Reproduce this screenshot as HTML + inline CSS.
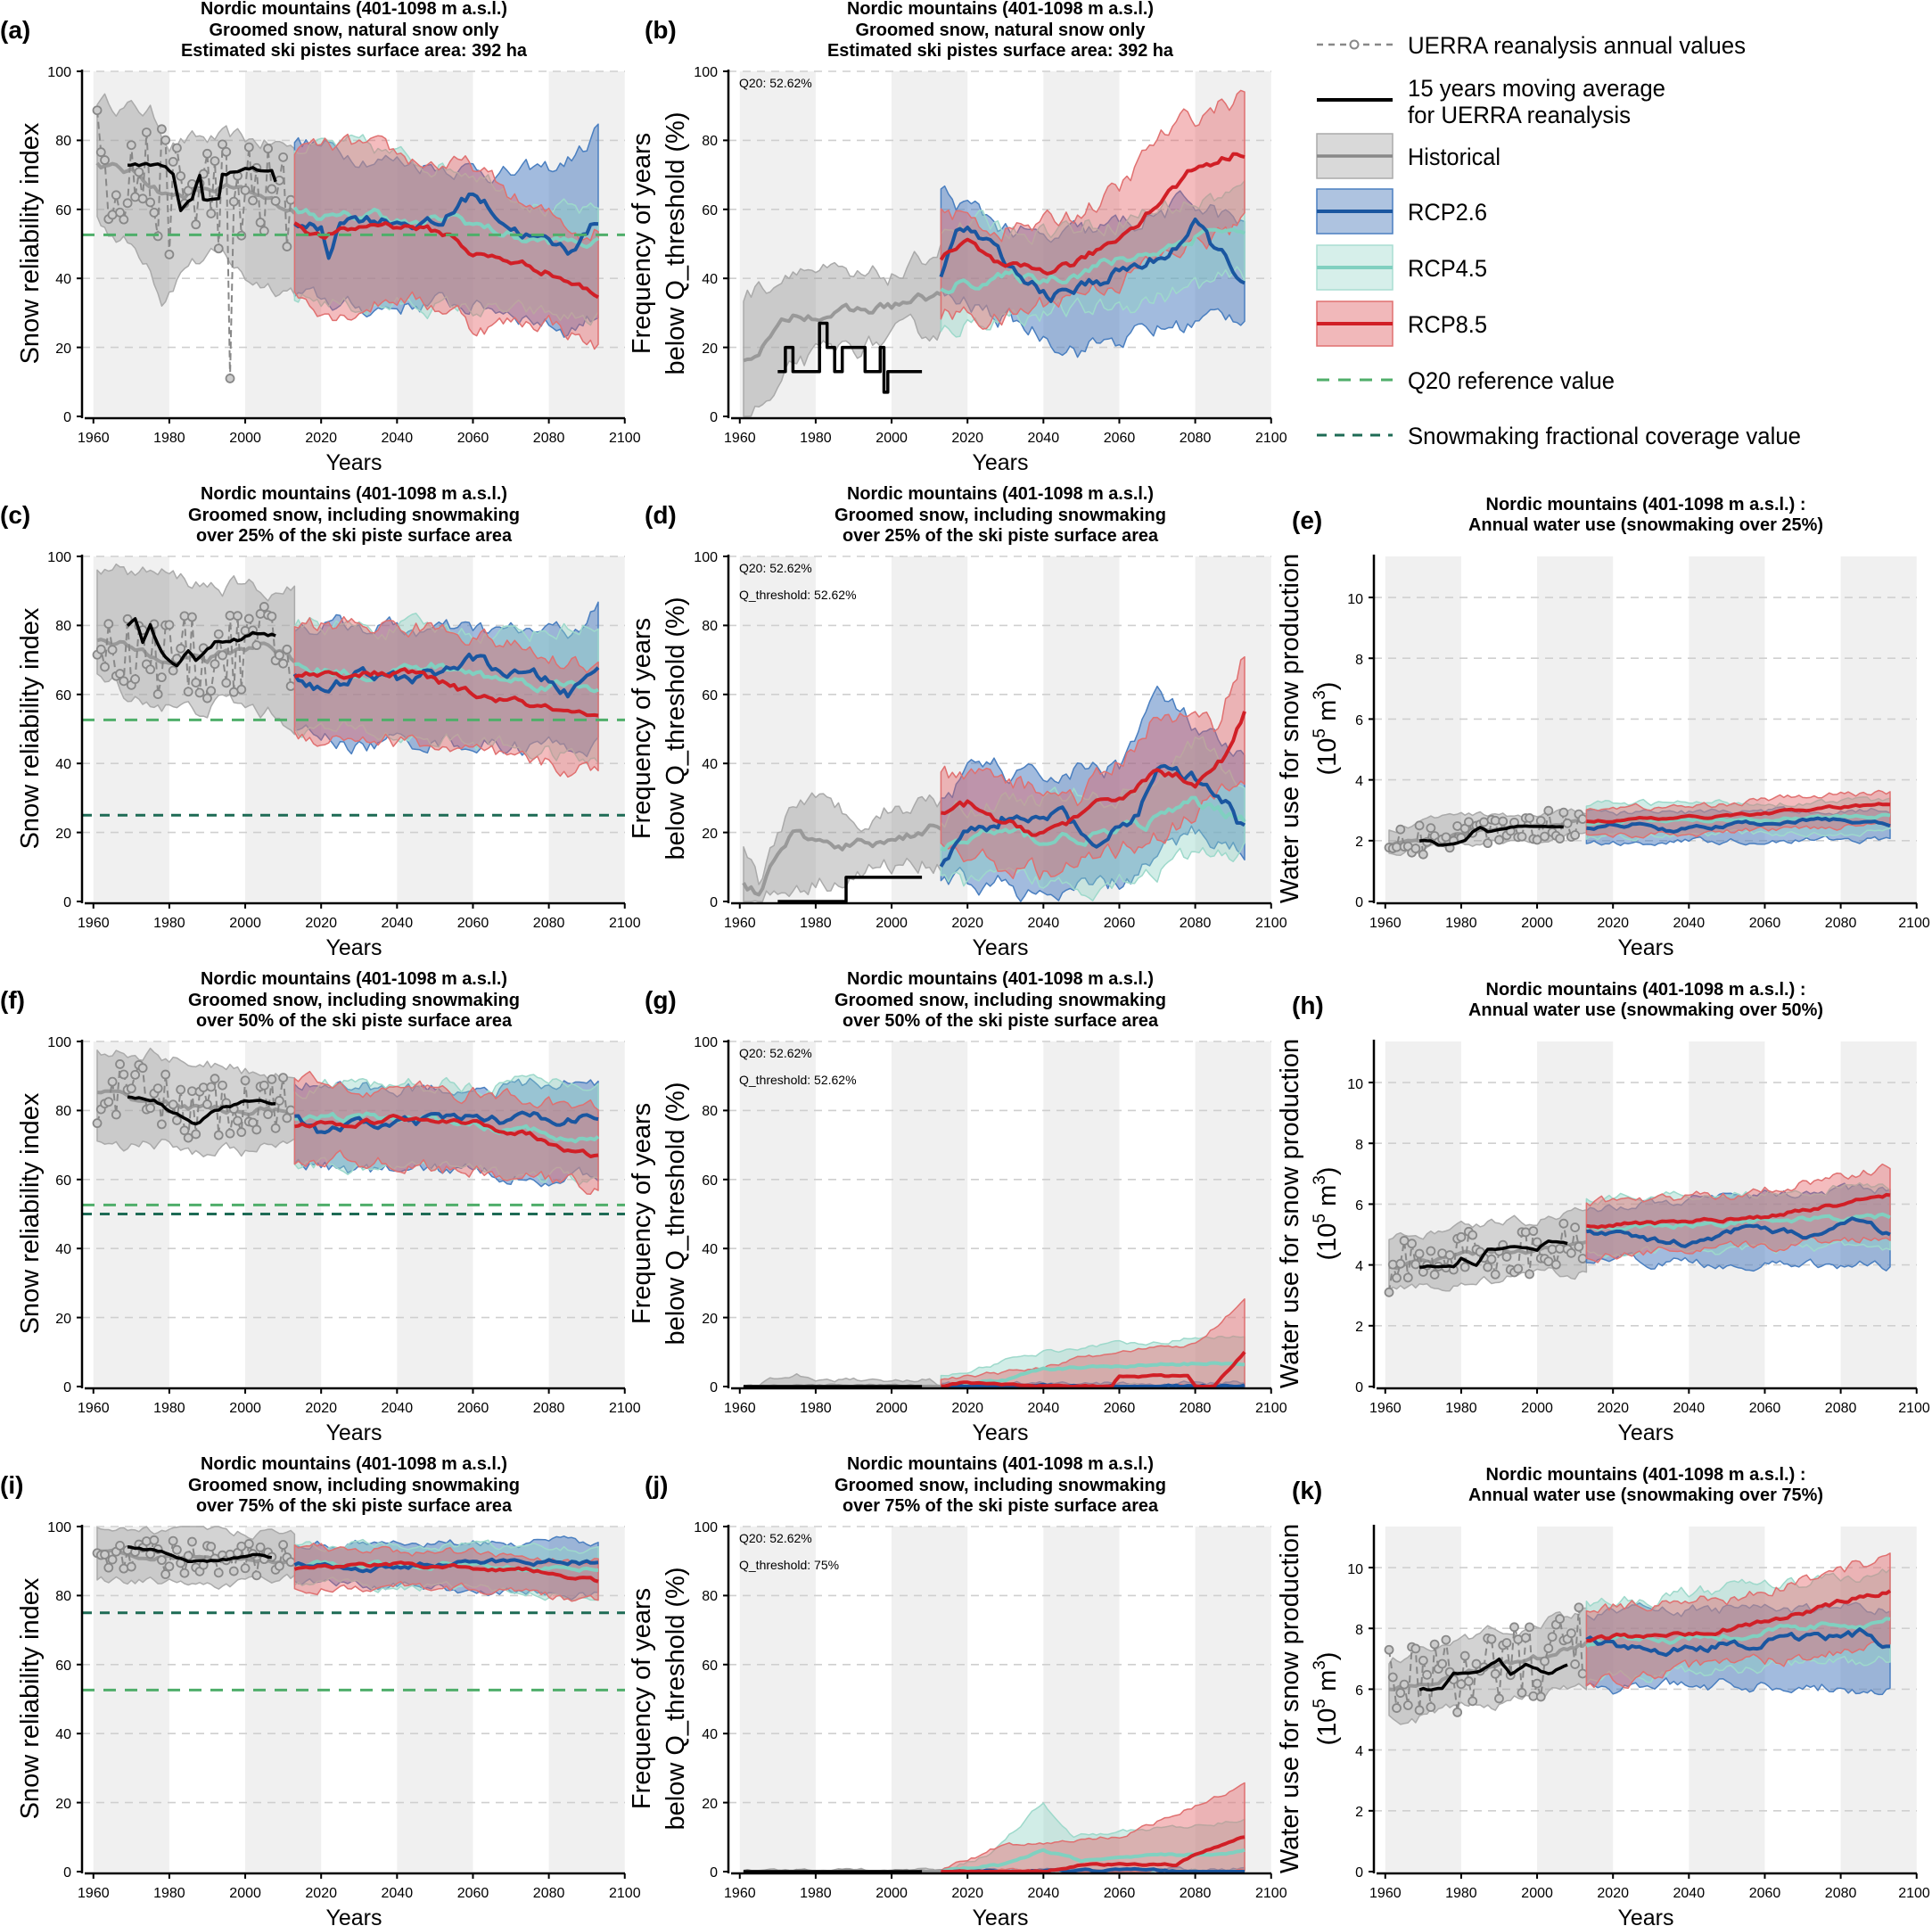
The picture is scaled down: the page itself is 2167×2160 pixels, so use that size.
<!DOCTYPE html>
<html><head><meta charset="utf-8">
<style>
html,body{margin:0;padding:0;background:#fff;}
svg{display:block;font-family:"Liberation Sans Narrow","Liberation Sans",sans-serif;}
.t{font-family:"Liberation Sans Narrow","Liberation Sans",sans-serif;font-weight:bold;font-size:20px;text-anchor:middle;}
.pl{font-family:"Liberation Sans",sans-serif;font-weight:bold;font-size:28px;}
.xt{font-size:16px;text-anchor:middle;}
.yt{font-size:16px;text-anchor:end;}
.xl{font-family:"Liberation Sans",sans-serif;font-size:25px;text-anchor:middle;}
.yl{font-family:"Liberation Sans",sans-serif;font-size:29px;text-anchor:middle;}
.lg{font-size:27px;}
.q{font-family:"Liberation Sans",sans-serif;font-size:14px;}
</style></head><body>
<svg id="s" width="2167" height="2160" viewBox="0 0 2167 2160" xmlns="http://www.w3.org/2000/svg">
<g id="plots"></g>

<!-- Legend -->
<g>
<line x1="1477" y1="50" x2="1562" y2="50" stroke="#888" stroke-width="2.5" stroke-dasharray="7,6"/>
<circle cx="1519" cy="50" r="4.5" fill="#fff" stroke="#888" stroke-width="2"/>
<text class="lg" x="1579" y="60" textLength="379" lengthAdjust="spacingAndGlyphs">UERRA reanalysis annual values</text>
<line x1="1477" y1="112" x2="1562" y2="112" stroke="#000" stroke-width="4"/>
<text class="lg" x="1579" y="108" textLength="289" lengthAdjust="spacingAndGlyphs">15 years moving average</text>
<text class="lg" x="1579" y="138" textLength="250" lengthAdjust="spacingAndGlyphs">for UERRA reanalysis</text>
<rect x="1477" y="150" width="85" height="50" fill="#d9d9d9" stroke="#aaa" stroke-width="1.5"/>
<line x1="1477" y1="175" x2="1562" y2="175" stroke="#888" stroke-width="3.5"/>
<text class="lg" x="1579" y="185" textLength="104" lengthAdjust="spacingAndGlyphs">Historical</text>
<rect x="1477" y="212" width="85" height="50" fill="#aec3e0" stroke="#4a7fc0" stroke-width="1.5"/>
<line x1="1477" y1="237" x2="1562" y2="237" stroke="#1a56a0" stroke-width="4"/>
<text class="lg" x="1579" y="247" textLength="89" lengthAdjust="spacingAndGlyphs">RCP2.6</text>
<rect x="1477" y="275" width="85" height="50" fill="#d6efea" stroke="#a9ddd2" stroke-width="1.5"/>
<line x1="1477" y1="300" x2="1562" y2="300" stroke="#80d0c0" stroke-width="4"/>
<text class="lg" x="1579" y="310" textLength="89" lengthAdjust="spacingAndGlyphs">RCP4.5</text>
<rect x="1477" y="338" width="85" height="50" fill="#f1b8ba" stroke="#e07070" stroke-width="1.5"/>
<line x1="1477" y1="363" x2="1562" y2="363" stroke="#d11f26" stroke-width="4"/>
<text class="lg" x="1579" y="373" textLength="89" lengthAdjust="spacingAndGlyphs">RCP8.5</text>
<line x1="1477" y1="426" x2="1562" y2="426" stroke="#4fae6a" stroke-width="3" stroke-dasharray="14,10"/>
<text class="lg" x="1579" y="436" textLength="232" lengthAdjust="spacingAndGlyphs">Q20 reference value</text>
<line x1="1477" y1="488" x2="1562" y2="488" stroke="#1e6b55" stroke-width="3" stroke-dasharray="11,9"/>
<text class="lg" x="1579" y="498" textLength="441" lengthAdjust="spacingAndGlyphs">Snowmaking fractional coverage value</text>
</g>

<!-- (a) -->
<g transform="translate(92,80)">
<text class="pl" x="-92" y="-37">(a)</text>
<text class="t" x="305" y="-64" textLength="344" lengthAdjust="spacingAndGlyphs">Nordic mountains (401-1098 m a.s.l.)</text>
<text class="t" x="305" y="-40" textLength="325" lengthAdjust="spacingAndGlyphs">Groomed snow, natural snow only</text>
<text class="t" x="305" y="-17" textLength="388" lengthAdjust="spacingAndGlyphs">Estimated ski pistes surface area: 392 ha</text>
<text class="yl" transform="translate(-49,193) rotate(-90)">Snow reliability index</text>
<text class="xl" x="305" y="447">Years</text>
<text class="yt" x="-12" y="6">100</text><text class="yt" x="-12" y="83">80</text><text class="yt" x="-12" y="161">60</text><text class="yt" x="-12" y="238">40</text><text class="yt" x="-12" y="316">20</text><text class="yt" x="-12" y="393">0</text>
<text class="xt" x="12.8" y="416">1960</text><text class="xt" x="97.9" y="416">1980</text><text class="xt" x="183.1" y="416">2000</text><text class="xt" x="268.2" y="416">2020</text><text class="xt" x="353.3" y="416">2040</text><text class="xt" x="438.5" y="416">2060</text><text class="xt" x="523.6" y="416">2080</text><text class="xt" x="608.8" y="416">2100</text>
</g>
<!-- (b) -->
<g transform="translate(817,80)">
<text class="pl" x="-94" y="-37">(b)</text>
<text class="t" x="305" y="-64" textLength="344" lengthAdjust="spacingAndGlyphs">Nordic mountains (401-1098 m a.s.l.)</text>
<text class="t" x="305" y="-40" textLength="325" lengthAdjust="spacingAndGlyphs">Groomed snow, natural snow only</text>
<text class="t" x="305" y="-17" textLength="388" lengthAdjust="spacingAndGlyphs">Estimated ski pistes surface area: 392 ha</text>
<text class="yl" transform="translate(-88,193) rotate(-90)">Frequency of years</text>
<text class="yl" transform="translate(-50,193) rotate(-90)">below Q_threshold (%)</text>
<text class="q" x="12" y="18">Q20: 52.62%</text>
<text class="xl" x="305" y="447">Years</text>
<text class="yt" x="-12" y="6">100</text><text class="yt" x="-12" y="83">80</text><text class="yt" x="-12" y="161">60</text><text class="yt" x="-12" y="238">40</text><text class="yt" x="-12" y="316">20</text><text class="yt" x="-12" y="393">0</text>
<text class="xt" x="12.8" y="416">1960</text><text class="xt" x="97.9" y="416">1980</text><text class="xt" x="183.1" y="416">2000</text><text class="xt" x="268.2" y="416">2020</text><text class="xt" x="353.3" y="416">2040</text><text class="xt" x="438.5" y="416">2060</text><text class="xt" x="523.6" y="416">2080</text><text class="xt" x="608.8" y="416">2100</text>
</g>
<!-- (c) -->
<g transform="translate(92,624)">
<text class="pl" x="-92" y="-37">(c)</text>
<text class="t" x="305" y="-64" textLength="344" lengthAdjust="spacingAndGlyphs">Nordic mountains (401-1098 m a.s.l.)</text>
<text class="t" x="305" y="-40" textLength="372" lengthAdjust="spacingAndGlyphs">Groomed snow, including snowmaking</text>
<text class="t" x="305" y="-17" textLength="354" lengthAdjust="spacingAndGlyphs">over 25% of the ski piste surface area</text>
<text class="yl" transform="translate(-49,193) rotate(-90)">Snow reliability index</text>
<text class="xl" x="305" y="447">Years</text>
<text class="yt" x="-12" y="6">100</text><text class="yt" x="-12" y="83">80</text><text class="yt" x="-12" y="161">60</text><text class="yt" x="-12" y="238">40</text><text class="yt" x="-12" y="316">20</text><text class="yt" x="-12" y="393">0</text>
<text class="xt" x="12.8" y="416">1960</text><text class="xt" x="97.9" y="416">1980</text><text class="xt" x="183.1" y="416">2000</text><text class="xt" x="268.2" y="416">2020</text><text class="xt" x="353.3" y="416">2040</text><text class="xt" x="438.5" y="416">2060</text><text class="xt" x="523.6" y="416">2080</text><text class="xt" x="608.8" y="416">2100</text>
</g>
<!-- (d) -->
<g transform="translate(817,624)">
<text class="pl" x="-94" y="-37">(d)</text>
<text class="t" x="305" y="-64" textLength="344" lengthAdjust="spacingAndGlyphs">Nordic mountains (401-1098 m a.s.l.)</text>
<text class="t" x="305" y="-40" textLength="372" lengthAdjust="spacingAndGlyphs">Groomed snow, including snowmaking</text>
<text class="t" x="305" y="-17" textLength="354" lengthAdjust="spacingAndGlyphs">over 25% of the ski piste surface area</text>
<text class="yl" transform="translate(-88,193) rotate(-90)">Frequency of years</text>
<text class="yl" transform="translate(-50,193) rotate(-90)">below Q_threshold (%)</text>
<text class="q" x="12" y="18">Q20: 52.62%</text>
<text class="q" x="12" y="48">Q_threshold: 52.62%</text>
<text class="xl" x="305" y="447">Years</text>
<text class="yt" x="-12" y="6">100</text><text class="yt" x="-12" y="83">80</text><text class="yt" x="-12" y="161">60</text><text class="yt" x="-12" y="238">40</text><text class="yt" x="-12" y="316">20</text><text class="yt" x="-12" y="393">0</text>
<text class="xt" x="12.8" y="416">1960</text><text class="xt" x="97.9" y="416">1980</text><text class="xt" x="183.1" y="416">2000</text><text class="xt" x="268.2" y="416">2020</text><text class="xt" x="353.3" y="416">2040</text><text class="xt" x="438.5" y="416">2060</text><text class="xt" x="523.6" y="416">2080</text><text class="xt" x="608.8" y="416">2100</text>
</g>
<!-- (e) -->
<g transform="translate(1541,624)">
<text class="pl" x="-92" y="-31">(e)</text>
<text class="t" x="305" y="-52" textLength="359" lengthAdjust="spacingAndGlyphs">Nordic mountains (401-1098 m a.s.l.) :</text>
<text class="t" x="305" y="-29" textLength="398" lengthAdjust="spacingAndGlyphs">Annual water use (snowmaking over 25%)</text>
<text class="yl" transform="translate(-85,193) rotate(-90)">Water use for snow production</text>
<text class="yl" transform="translate(-43,193) rotate(-90)">(10<tspan dy="-12" font-size="19">5</tspan><tspan dy="12"> m</tspan><tspan dy="-12" font-size="19">3</tspan><tspan dy="12">)</tspan></text>
<text class="xl" x="305" y="447">Years</text>
<text class="yt" x="-12" y="393">0</text><text class="yt" x="-12" y="325">2</text><text class="yt" x="-12" y="257">4</text><text class="yt" x="-12" y="189">6</text><text class="yt" x="-12" y="121">8</text><text class="yt" x="-12" y="53">10</text>
<text class="xt" x="12.8" y="416">1960</text><text class="xt" x="97.9" y="416">1980</text><text class="xt" x="183.1" y="416">2000</text><text class="xt" x="268.2" y="416">2020</text><text class="xt" x="353.3" y="416">2040</text><text class="xt" x="438.5" y="416">2060</text><text class="xt" x="523.6" y="416">2080</text><text class="xt" x="606" y="416">2100</text>
</g>
<!-- (f) -->
<g transform="translate(92,1168)">
<text class="pl" x="-92" y="-37">(f)</text>
<text class="t" x="305" y="-64" textLength="344" lengthAdjust="spacingAndGlyphs">Nordic mountains (401-1098 m a.s.l.)</text>
<text class="t" x="305" y="-40" textLength="372" lengthAdjust="spacingAndGlyphs">Groomed snow, including snowmaking</text>
<text class="t" x="305" y="-17" textLength="354" lengthAdjust="spacingAndGlyphs">over 50% of the ski piste surface area</text>
<text class="yl" transform="translate(-49,193) rotate(-90)">Snow reliability index</text>
<text class="xl" x="305" y="447">Years</text>
<text class="yt" x="-12" y="6">100</text><text class="yt" x="-12" y="83">80</text><text class="yt" x="-12" y="161">60</text><text class="yt" x="-12" y="238">40</text><text class="yt" x="-12" y="316">20</text><text class="yt" x="-12" y="393">0</text>
<text class="xt" x="12.8" y="416">1960</text><text class="xt" x="97.9" y="416">1980</text><text class="xt" x="183.1" y="416">2000</text><text class="xt" x="268.2" y="416">2020</text><text class="xt" x="353.3" y="416">2040</text><text class="xt" x="438.5" y="416">2060</text><text class="xt" x="523.6" y="416">2080</text><text class="xt" x="608.8" y="416">2100</text>
</g>
<!-- (g) -->
<g transform="translate(817,1168)">
<text class="pl" x="-94" y="-37">(g)</text>
<text class="t" x="305" y="-64" textLength="344" lengthAdjust="spacingAndGlyphs">Nordic mountains (401-1098 m a.s.l.)</text>
<text class="t" x="305" y="-40" textLength="372" lengthAdjust="spacingAndGlyphs">Groomed snow, including snowmaking</text>
<text class="t" x="305" y="-17" textLength="354" lengthAdjust="spacingAndGlyphs">over 50% of the ski piste surface area</text>
<text class="yl" transform="translate(-88,193) rotate(-90)">Frequency of years</text>
<text class="yl" transform="translate(-50,193) rotate(-90)">below Q_threshold (%)</text>
<text class="q" x="12" y="18">Q20: 52.62%</text>
<text class="q" x="12" y="48">Q_threshold: 52.62%</text>
<text class="xl" x="305" y="447">Years</text>
<text class="yt" x="-12" y="6">100</text><text class="yt" x="-12" y="83">80</text><text class="yt" x="-12" y="161">60</text><text class="yt" x="-12" y="238">40</text><text class="yt" x="-12" y="316">20</text><text class="yt" x="-12" y="393">0</text>
<text class="xt" x="12.8" y="416">1960</text><text class="xt" x="97.9" y="416">1980</text><text class="xt" x="183.1" y="416">2000</text><text class="xt" x="268.2" y="416">2020</text><text class="xt" x="353.3" y="416">2040</text><text class="xt" x="438.5" y="416">2060</text><text class="xt" x="523.6" y="416">2080</text><text class="xt" x="608.8" y="416">2100</text>
</g>
<!-- (h) -->
<g transform="translate(1541,1168)">
<text class="pl" x="-92" y="-31">(h)</text>
<text class="t" x="305" y="-52" textLength="359" lengthAdjust="spacingAndGlyphs">Nordic mountains (401-1098 m a.s.l.) :</text>
<text class="t" x="305" y="-29" textLength="398" lengthAdjust="spacingAndGlyphs">Annual water use (snowmaking over 50%)</text>
<text class="yl" transform="translate(-85,193) rotate(-90)">Water use for snow production</text>
<text class="yl" transform="translate(-43,193) rotate(-90)">(10<tspan dy="-12" font-size="19">5</tspan><tspan dy="12"> m</tspan><tspan dy="-12" font-size="19">3</tspan><tspan dy="12">)</tspan></text>
<text class="xl" x="305" y="447">Years</text>
<text class="yt" x="-12" y="393">0</text><text class="yt" x="-12" y="325">2</text><text class="yt" x="-12" y="257">4</text><text class="yt" x="-12" y="189">6</text><text class="yt" x="-12" y="121">8</text><text class="yt" x="-12" y="53">10</text>
<text class="xt" x="12.8" y="416">1960</text><text class="xt" x="97.9" y="416">1980</text><text class="xt" x="183.1" y="416">2000</text><text class="xt" x="268.2" y="416">2020</text><text class="xt" x="353.3" y="416">2040</text><text class="xt" x="438.5" y="416">2060</text><text class="xt" x="523.6" y="416">2080</text><text class="xt" x="606" y="416">2100</text>
</g>
<!-- (i) -->
<g transform="translate(92,1712)">
<text class="pl" x="-92" y="-37">(i)</text>
<text class="t" x="305" y="-64" textLength="344" lengthAdjust="spacingAndGlyphs">Nordic mountains (401-1098 m a.s.l.)</text>
<text class="t" x="305" y="-40" textLength="372" lengthAdjust="spacingAndGlyphs">Groomed snow, including snowmaking</text>
<text class="t" x="305" y="-17" textLength="354" lengthAdjust="spacingAndGlyphs">over 75% of the ski piste surface area</text>
<text class="yl" transform="translate(-49,193) rotate(-90)">Snow reliability index</text>
<text class="xl" x="305" y="447">Years</text>
<text class="yt" x="-12" y="6">100</text><text class="yt" x="-12" y="83">80</text><text class="yt" x="-12" y="161">60</text><text class="yt" x="-12" y="238">40</text><text class="yt" x="-12" y="316">20</text><text class="yt" x="-12" y="393">0</text>
<text class="xt" x="12.8" y="416">1960</text><text class="xt" x="97.9" y="416">1980</text><text class="xt" x="183.1" y="416">2000</text><text class="xt" x="268.2" y="416">2020</text><text class="xt" x="353.3" y="416">2040</text><text class="xt" x="438.5" y="416">2060</text><text class="xt" x="523.6" y="416">2080</text><text class="xt" x="608.8" y="416">2100</text>
</g>
<!-- (j) -->
<g transform="translate(817,1712)">
<text class="pl" x="-94" y="-37">(j)</text>
<text class="t" x="305" y="-64" textLength="344" lengthAdjust="spacingAndGlyphs">Nordic mountains (401-1098 m a.s.l.)</text>
<text class="t" x="305" y="-40" textLength="372" lengthAdjust="spacingAndGlyphs">Groomed snow, including snowmaking</text>
<text class="t" x="305" y="-17" textLength="354" lengthAdjust="spacingAndGlyphs">over 75% of the ski piste surface area</text>
<text class="yl" transform="translate(-88,193) rotate(-90)">Frequency of years</text>
<text class="yl" transform="translate(-50,193) rotate(-90)">below Q_threshold (%)</text>
<text class="q" x="12" y="18">Q20: 52.62%</text>
<text class="q" x="12" y="48">Q_threshold: 75%</text>
<text class="xl" x="305" y="447">Years</text>
<text class="yt" x="-12" y="6">100</text><text class="yt" x="-12" y="83">80</text><text class="yt" x="-12" y="161">60</text><text class="yt" x="-12" y="238">40</text><text class="yt" x="-12" y="316">20</text><text class="yt" x="-12" y="393">0</text>
<text class="xt" x="12.8" y="416">1960</text><text class="xt" x="97.9" y="416">1980</text><text class="xt" x="183.1" y="416">2000</text><text class="xt" x="268.2" y="416">2020</text><text class="xt" x="353.3" y="416">2040</text><text class="xt" x="438.5" y="416">2060</text><text class="xt" x="523.6" y="416">2080</text><text class="xt" x="608.8" y="416">2100</text>
</g>
<!-- (k) -->
<g transform="translate(1541,1712)">
<text class="pl" x="-92" y="-31">(k)</text>
<text class="t" x="305" y="-52" textLength="359" lengthAdjust="spacingAndGlyphs">Nordic mountains (401-1098 m a.s.l.) :</text>
<text class="t" x="305" y="-29" textLength="398" lengthAdjust="spacingAndGlyphs">Annual water use (snowmaking over 75%)</text>
<text class="yl" transform="translate(-85,193) rotate(-90)">Water use for snow production</text>
<text class="yl" transform="translate(-43,193) rotate(-90)">(10<tspan dy="-12" font-size="19">5</tspan><tspan dy="12"> m</tspan><tspan dy="-12" font-size="19">3</tspan><tspan dy="12">)</tspan></text>
<text class="xl" x="305" y="447">Years</text>
<text class="yt" x="-12" y="393">0</text><text class="yt" x="-12" y="325">2</text><text class="yt" x="-12" y="257">4</text><text class="yt" x="-12" y="189">6</text><text class="yt" x="-12" y="121">8</text><text class="yt" x="-12" y="53">10</text>
<text class="xt" x="12.8" y="416">1960</text><text class="xt" x="97.9" y="416">1980</text><text class="xt" x="183.1" y="416">2000</text><text class="xt" x="268.2" y="416">2020</text><text class="xt" x="353.3" y="416">2040</text><text class="xt" x="438.5" y="416">2060</text><text class="xt" x="523.6" y="416">2080</text><text class="xt" x="606" y="416">2100</text>
</g>
</svg>
<script>
(function(){
var NS="http://www.w3.org/2000/svg",root=document.getElementById("plots");
var G="#4fae6a",DG="#1e6b55";
function el(n,a,p){var e=document.createElementNS(NS,n);for(var k in a)e.setAttribute(k,a[k]);(p||root).appendChild(e);return e;}
var seed=12345;function rnd(){seed=(seed*16807)%2147483647;return seed/2147483647;}
function ip(a,x){if(x<=a[0][0])return a[0][1];for(var i=0;i<a.length-1;i++){if(x<=a[i+1][0]){var t=(x-a[i][0])/((a[i+1][0]-a[i][0])||1);return a[i][1]+t*(a[i+1][1]-a[i][1]);}}return a[a.length-1][1];}
function gen(a,x0,x1,amp,ym){var n=0,o=[];for(var x=x0;x<=x1;x++){n=0.7*n+amp*(rnd()-0.5)*1.4;var v=ip(a,x)+n;v=Math.max(0,Math.min(ym,v));o.push([x,v]);}return o;}
var P=[
{o:[92,80],ym:100,na:2.5,u:18,
 h:{m:[[1961,73],[1972,70],[1980,64],[1995,66],[2013,60]],lo:[[1961,57],[1968,51],[1975,45],[1978,35],[1980,38],[1985,45],[1995,46],[2000,40],[2013,37]],hi:[[1961,92],[1968,90],[1975,88],[1980,80],[2000,80],[2013,78]]},
 ma:[[1969,73],[1978,73],[1981,70],[1983,60],[1986,63],[1988,70],[1989,63],[1993,63],[1994,70],[2001,72],[2007,71],[2008,68]],
 b:{m:[[2013,57],[2020,54],[2022,46],[2025,58],[2040,57],[2052,55],[2053,58],[2060,65],[2070,55],[2080,50],[2085,48],[2093,57]],lo:[[2013,35],[2030,31],[2050,33],[2070,31],[2085,25],[2093,30]],hi:[[2013,80],[2020,78],[2040,74],[2060,72],[2070,70],[2082,72],[2090,78],[2093,84]]},
 t:{m:[[2013,60],[2025,57],[2035,59],[2045,55],[2055,58],[2065,54],[2075,51],[2093,50]],lo:[[2013,35],[2030,32],[2050,32],[2070,30],[2093,28]],hi:[[2013,78],[2030,78],[2045,74],[2060,72],[2080,60],[2093,58]]},
 r:{m:[[2013,56],[2020,52],[2028,54],[2035,56],[2045,55],[2055,52],[2060,47],[2070,45],[2080,42],[2093,35]],lo:[[2013,35],[2025,30],[2040,35],[2057,30],[2060,26],[2080,28],[2093,20]],hi:[[2013,78],[2030,78],[2045,74],[2060,72],[2075,60],[2090,53],[2093,55]]},
 hl:[[52.62,G]]},
{o:[817,80],ym:100,na:3,u:0,
 h:{m:[[1961,16],[1965,20],[1975,30],[1990,30],[2013,35]],lo:[[1961,0],[1970,5],[1975,15],[1990,20],[2013,25]],hi:[[1961,35],[1970,40],[1975,45],[1990,38],[2005,42],[2013,50]]},
 st:1,ma:[[1970,13],[1972,20],[1974,13],[1976,13],[1978,13],[1981,27],[1983,20],[1985,13],[1987,20],[1993,13],[1997,20],[1998,7],[1999,13],[2008,13]],
 r:{m:[[2013,45],[2020,50],[2030,42],[2040,42],[2050,45],[2060,52],[2070,62],[2080,72],[2093,77]],lo:[[2013,30],[2030,28],[2045,35],[2060,40],[2080,50],[2093,55]],hi:[[2013,60],[2025,55],[2040,55],[2060,65],[2070,80],[2085,90],[2093,93]]},
 b:{m:[[2013,42],[2018,55],[2025,50],[2035,38],[2045,35],[2060,42],[2070,45],[2080,55],[2088,45],[2093,40]],lo:[[2013,35],[2030,28],[2050,20],[2070,25],[2093,30]],hi:[[2013,65],[2020,60],[2040,50],[2060,55],[2080,62],[2093,55]]},
 t:{m:[[2013,38],[2025,40],[2040,40],[2060,45],[2075,50],[2085,55],[2093,52]],lo:[[2013,25],[2030,30],[2050,30],[2070,35],[2093,40]],hi:[[2013,55],[2030,55],[2050,55],[2070,60],[2093,65]]},hl:[]},
{o:[92,624],ym:100,na:2.5,u:12,
 h:{m:[[1961,75],[1975,72],[1990,70],[2005,75],[2013,70]],lo:[[1961,65],[1970,60],[1985,55],[1995,58],[2013,52]],hi:[[1961,96],[1975,95],[1990,92],[2005,90],[2013,90]]},
 ma:[[1969,80],[1971,82],[1973,75],[1975,80],[1978,72],[1982,68],[1985,73],[1987,70],[1992,75],[1999,76],[2002,78],[2008,77]],
 b:{m:[[2013,66],[2022,60],[2030,66],[2040,64],[2050,66],[2060,70],[2070,66],[2080,64],[2085,60],[2093,67]],lo:[[2013,50],[2030,45],[2050,47],[2070,45],[2093,45]],hi:[[2013,80],[2030,80],[2050,78],[2070,78],[2085,78],[2093,85]]},
 t:{m:[[2013,68],[2030,66],[2050,68],[2070,64],[2093,62]],lo:[[2013,50],[2040,48],[2070,45],[2093,40]],hi:[[2013,80],[2040,79],[2070,78],[2093,80]]},
 r:{m:[[2013,66],[2030,66],[2045,66],[2060,60],[2075,57],[2093,52]],lo:[[2013,48],[2030,48],[2050,45],[2070,40],[2093,38]],hi:[[2013,80],[2040,80],[2060,78],[2080,70],[2093,68]]},
 hl:[[52.62,G],[25,DG]]},
{o:[817,624],ym:100,na:3,u:0,
 h:{m:[[1961,5],[1965,2],[1970,15],[1975,20],[1985,15],[2000,18],[2013,22]],lo:[[1961,0],[1975,5],[2000,10],[2013,12]],hi:[[1961,15],[1965,5],[1970,20],[1975,30],[1990,25],[2013,30]]},
 st:1,ma:[[1970,0],[1988,7],[2008,7]],
 r:{m:[[2013,25],[2020,28],[2030,22],[2040,20],[2050,25],[2060,30],[2070,38],[2080,35],[2088,42],[2093,54]],lo:[[2013,15],[2030,10],[2045,8],[2060,15],[2080,25],[2093,35]],hi:[[2013,35],[2030,35],[2050,30],[2060,40],[2070,55],[2085,50],[2093,74]]},
 b:{m:[[2013,10],[2020,20],[2030,25],[2035,22],[2045,25],[2055,15],[2065,25],[2070,40],[2080,35],[2088,28],[2093,20]],lo:[[2013,5],[2030,5],[2040,0],[2060,5],[2080,20],[2093,15]],hi:[[2013,30],[2025,40],[2035,35],[2060,40],[2070,60],[2085,45],[2093,40]]},
 t:{m:[[2013,15],[2025,20],[2040,18],[2060,20],[2080,28],[2093,25]],lo:[[2013,5],[2030,5],[2050,5],[2070,10],[2093,15]],hi:[[2013,25],[2030,30],[2060,30],[2080,45],[2093,35]]},hl:[]},
{o:[1541,624],ym:11.35,na:0.1,u:0.5,
 h:{m:[[1961,1.9],[1975,2.1],[1985,2.35],[2000,2.5],[2013,2.6]],lo:[[1961,1.6],[1980,1.9],[2000,2.1],[2013,2.2]],hi:[[1961,2.3],[1975,2.8],[2000,2.8],[2013,3.0]]},
 ma:[[1969,2.0],[1972,2.0],[1974,1.85],[1978,1.9],[1981,2.0],[1983,2.3],[1985,2.45],[1987,2.3],[1995,2.48],[2007,2.45]],
 r:{m:[[2013,2.65],[2040,2.75],[2060,2.9],[2080,3.1],[2093,3.2]],lo:[[2013,2.2],[2040,2.2],[2093,2.6]],hi:[[2013,3.1],[2040,3.1],[2060,3.35],[2093,3.6]]},
 b:{m:[[2013,2.45],[2025,2.55],[2035,2.35],[2060,2.6],[2080,2.7],[2093,2.5]],lo:[[2013,1.9],[2040,2.0],[2060,2.0],[2093,2.05]],hi:[[2013,2.9],[2093,3.0]]},
 t:{m:[[2013,2.6],[2050,2.7],[2093,2.8]],lo:[[2013,2.1],[2093,2.3]],hi:[[2013,3.2],[2093,3.3]]},hl:[],wat:1},
{o:[92,1168],ym:100,na:2,u:10,
 h:{m:[[1961,85],[1980,82],[1995,80],[2013,80]],lo:[[1961,72],[1975,70],[1995,68],[2013,70]],hi:[[1961,98],[1975,97],[1995,92],[2013,90]]},
 ma:[[1969,84],[1976,83],[1980,80],[1985,77],[1987,76],[1992,80],[1998,82],[2002,83],[2008,82]],
 b:{m:[[2013,78],[2020,73],[2030,76],[2045,76],[2060,78],[2070,77],[2080,78],[2093,78]],lo:[[2013,66],[2030,62],[2050,63],[2093,60]],hi:[[2013,88],[2040,86],[2070,87],[2093,88]]},
 t:{m:[[2013,78],[2040,78],[2060,76],[2080,73],[2093,73]],lo:[[2013,65],[2093,60]],hi:[[2013,87],[2093,88]]},
 r:{m:[[2013,76],[2030,76],[2040,78],[2060,76],[2075,73],[2093,66]],lo:[[2013,66],[2040,65],[2060,62],[2093,58]],hi:[[2013,88],[2040,86],[2060,85],[2093,80]]},
 hl:[[52.62,G],[50,DG]]},
{o:[817,1168],ym:100,na:0.6,u:0,
 h:{m:[[1961,0],[2013,0]],lo:[[1961,0],[2013,0]],hi:[[1961,0],[1968,2],[1975,4],[1980,2],[2010,2],[2013,0]]},
 st:1,ma:[[1961,0],[2008,0]],
 b:{m:[[2013,0],[2093,0]],lo:[[2013,0],[2093,0]],hi:[[2013,1],[2093,1]]},
 t:{m:[[2013,0],[2030,2],[2040,5],[2060,6],[2093,7]],lo:[[2013,0],[2093,0]],hi:[[2013,3],[2040,10],[2055,12],[2093,15]]},
 r:{m:[[2013,0],[2018,1],[2025,1],[2045,0],[2058,0],[2060,3],[2078,3],[2080,0],[2085,0],[2093,10]],lo:[[2013,0],[2093,0]],hi:[[2013,2],[2030,4],[2060,10],[2080,12],[2093,25]]},hl:[]},
{o:[1541,1168],ym:11.35,na:0.15,u:0.9,
 h:{m:[[1961,3.9],[1980,4.3],[2000,4.5],[2013,4.8]],lo:[[1961,3.2],[1980,3.4],[2013,3.8]],hi:[[1961,4.8],[1980,5.3],[2000,5.5],[2013,5.9]]},
 ma:[[1969,3.95],[1978,3.95],[1980,4.2],[1984,4.0],[1987,4.5],[1994,4.6],[2000,4.5],[2003,4.8],[2008,4.7]],
 r:{m:[[2013,5.3],[2040,5.4],[2060,5.6],[2080,6.0],[2093,6.3]],lo:[[2013,4.3],[2050,4.5],[2093,5.0]],hi:[[2013,6.0],[2050,6.3],[2093,7.2]]},
 b:{m:[[2013,5.1],[2030,4.8],[2040,4.7],[2055,5.2],[2070,5.0],[2085,5.5],[2093,5.0]],lo:[[2013,4.2],[2060,4.0],[2093,4.0]],hi:[[2013,5.9],[2093,6.5]]},
 t:{m:[[2013,5.2],[2050,5.4],[2093,5.6]],lo:[[2013,4.4],[2093,4.6]],hi:[[2013,6.2],[2093,6.6]]},hl:[],wat:1},
{o:[92,1712],ym:100,na:1.2,u:5,
 h:{m:[[1961,93],[1980,91],[2000,90],[2013,90]],lo:[[1961,85],[1990,83],[2013,85]],hi:[[1961,99],[2013,98]]},
 ma:[[1969,94],[1977,93],[1985,90],[1992,90],[1998,91],[2003,92],[2007,91]],
 b:{m:[[2013,89],[2030,88],[2050,89],[2070,90],[2093,90]],lo:[[2013,84],[2093,80]],hi:[[2013,95],[2093,95]]},
 t:{m:[[2013,89],[2050,89],[2093,88]],lo:[[2013,84],[2093,80]],hi:[[2013,95],[2093,94]]},
 r:{m:[[2013,88],[2040,89],[2060,88],[2080,87],[2093,84]],lo:[[2013,83],[2060,82],[2093,78]],hi:[[2013,94],[2060,92],[2093,90]]},
 hl:[[52.62,G],[75,DG]]},
{o:[817,1712],ym:100,na:0.6,u:0,
 h:{m:[[1961,0],[2013,0]],lo:[[1961,0],[2013,0]],hi:[[1961,0],[2013,0]]},
 st:1,ma:[[1961,0],[2008,0]],
 b:{m:[[2013,0],[2093,0]],lo:[[2013,0],[2093,0]],hi:[[2013,0],[2093,1]]},
 t:{m:[[2013,0],[2030,2],[2040,6],[2050,3],[2093,6]],lo:[[2013,0],[2093,0]],hi:[[2013,0],[2025,5],[2040,20],[2048,10],[2093,15]]},
 r:{m:[[2013,0],[2040,0],[2050,2],[2075,2],[2080,5],[2093,10]],lo:[[2013,0],[2093,0]],hi:[[2013,0],[2030,8],[2040,8],[2060,10],[2093,25]]},hl:[]},
{o:[1541,1712],ym:11.35,na:0.2,u:1.3,
 h:{m:[[1961,6],[1980,6.5],[2000,7],[2013,7.5]],lo:[[1961,5],[1980,5.3],[2013,6.2]],hi:[[1961,7],[1980,7.6],[2000,8.2],[2013,8.6]]},
 ma:[[1969,6.0],[1975,6.0],[1978,6.5],[1985,6.6],[1990,7.0],[1993,6.5],[1997,6.8],[2003,6.5],[2008,6.8]],
 r:{m:[[2013,7.6],[2030,7.8],[2050,8.0],[2070,8.5],[2093,9.3]],lo:[[2013,6.2],[2050,6.8],[2093,7.5]],hi:[[2013,8.6],[2050,9.0],[2093,10.3]]},
 b:{m:[[2013,7.6],[2030,7.2],[2050,7.5],[2070,7.6],[2085,7.8],[2093,7.3]],lo:[[2013,6.0],[2060,6.2],[2093,6.0]],hi:[[2013,8.6],[2060,8.6],[2093,8.8]]},
 t:{m:[[2013,7.5],[2050,7.8],[2093,8.3]],lo:[[2013,6.3],[2093,7.0]],hi:[[2013,8.8],[2093,9.8]]},hl:[],wat:1}
];
var HT=387;
P.forEach(function(p){
 var g=el("g",{transform:"translate("+p.o[0]+","+p.o[1]+")"});
 var X=function(y){return (y-1957)*4.257;},Y=function(v){return HT*(1-v/p.ym);};
 [1960,2000,2040,2080].forEach(function(s){el("rect",{x:X(s),y:0,width:X(s+20)-X(s),height:HT,fill:"#f0f0f0"},g);});
 var ticks=p.wat?[2,4,6,8,10]:[20,40,60,80,100];
 ticks.forEach(function(t){el("line",{x1:0,x2:609,y1:Y(t),y2:Y(t),stroke:"#cfcfcf","stroke-width":1.6,"stroke-dasharray":"9,7"},g);});
 function pts(a){return a.map(function(q){return X(q[0]).toFixed(1)+","+Y(q[1]).toFixed(1);}).join(" ");}
 function band(b,x0,x1,fill,stroke,amp){var hi=gen(b.hi,x0,x1,amp,p.ym),lo=gen(b.lo,x0,x1,amp,p.ym);
  for(var i=0;i<hi.length;i++){if(lo[i][1]>hi[i][1]){var t=lo[i][1];lo[i][1]=hi[i][1];hi[i][1]=t;}}
  el("polygon",{points:pts(hi)+" "+pts(lo.reverse()),fill:fill,stroke:stroke,"stroke-width":1.5,"stroke-linejoin":"round"},g);}
 function line(a,x0,x1,col,w,amp){el("polyline",{points:pts(gen(a,x0,x1,amp,p.ym)),fill:"none",stroke:col,"stroke-width":w,"stroke-linejoin":"round"},g);}
 band(p.h,1961,2013,"rgba(150,150,150,0.42)","#aaa",p.na*1.2);
 line(p.h.m,1961,2013,"#999",4,p.na*0.6);
 if(p.u){var u=[];for(var y=1961;y<=2012;y++){var v=ip(p.h.m,y)+(rnd()-0.5)*2*p.u;v=Math.max(0,Math.min(p.ym,v));u.push([y,v]);}
  if(p.o[0]==92&&p.o[1]==80){u[35][1]=11;}
  el("polyline",{points:pts(u),fill:"none",stroke:"#888","stroke-width":2,"stroke-dasharray":"8,5"},g);
  u.forEach(function(q){el("circle",{cx:X(q[0]),cy:Y(q[1]),r:4.5,fill:"#ccc",stroke:"#888","stroke-width":1.8},g);});}
 var m=p.ma,mp=[];
 if(p.st){for(var i=0;i<m.length;i++){if(i>0)mp.push([m[i][0],m[i-1][1]]);mp.push(m[i]);}}
 else{for(var i=0;i<m.length-1;i++){for(var y=m[i][0];y<m[i+1][0];y++)mp.push([y,ip(m,y)+(rnd()-0.5)*p.na*0.3]);}mp.push(m[m.length-1]);}
 el("polyline",{points:pts(mp),fill:"none",stroke:"#000","stroke-width":3.5,"stroke-linejoin":"round"},g);
 band(p.b,2013,2093,"rgba(70,120,190,0.5)","#4a7fc0",p.na*1.2);
 band(p.t,2013,2093,"rgba(140,210,195,0.4)","#9ed9cb",p.na*1.2);
 band(p.r,2013,2093,"rgba(228,95,100,0.42)","#e07070",p.na*1.2);
 line(p.t.m,2013,2093,"#80d0c0",4,p.na*0.7);
 line(p.b.m,2013,2093,"#1a56a0",4,p.na*0.8);
 line(p.r.m,2013,2093,"#d11f26",4,p.na*0.5);
 p.hl.forEach(function(h){el("line",{x1:0,x2:609,y1:Y(h[0]),y2:Y(h[0]),stroke:h[1],"stroke-width":3,"stroke-dasharray":h[1]==G?"14,10":"11,9"},g);});
 el("line",{x1:0,x2:0,y1:-2,y2:HT+2,stroke:"#000","stroke-width":2.5},g);
 el("line",{x1:3,x2:609,y1:HT+2,y2:HT+2,stroke:"#000","stroke-width":2.5},g);
 (p.wat?[0,2,4,6,8,10]:[0,20,40,60,80,100]).forEach(function(t){el("line",{x1:-6,x2:0,y1:Y(t),y2:Y(t),stroke:"#000","stroke-width":2},g);});
 for(var yy=1960;yy<=2100;yy+=20)el("line",{x1:X(yy),x2:X(yy),y1:HT+2,y2:HT+8,stroke:"#000","stroke-width":2},g);
});
})();
</script>
</body></html>
